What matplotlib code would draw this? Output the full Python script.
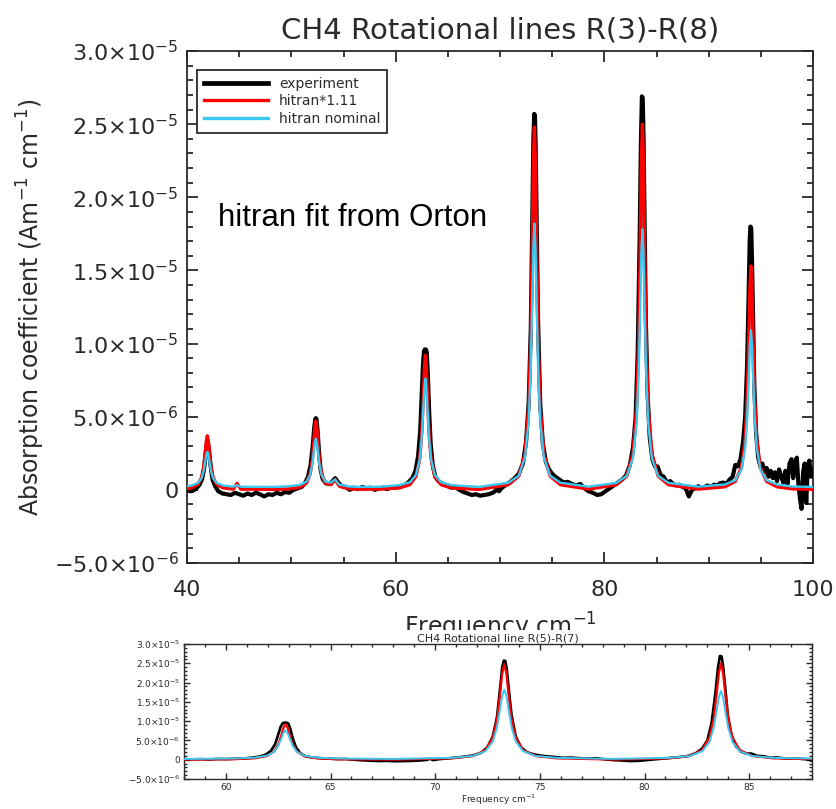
import matplotlib
matplotlib.use("Agg")
import matplotlib.pyplot as plt
from matplotlib.ticker import MultipleLocator, FuncFormatter
from matplotlib.patches import Rectangle
from matplotlib.transforms import Bbox, TransformedBbox
import numpy as np

# ---------------- data (absorption in units of 1e-6 Am^-1 cm^-1) ----------------
model_freq = [40.0, 40.45, 41.05, 41.4, 41.6, 41.75, 41.85, 41.95, 42.05, 42.15, 42.3, 42.5, 42.85, 43.45, 44.3,
              44.45, 44.8, 45.15,
              48.5, 49.85, 50.85, 51.45, 51.8, 52.0, 52.15, 52.25, 52.35, 52.45, 52.55, 52.7, 52.9, 53.25, 53.8, 54.2, 54.6, 55.5, 56.5,
              58.5, 60.35, 61.35, 61.95, 62.3, 62.5, 62.65, 62.75, 62.85, 62.95, 63.05, 63.2, 63.4, 63.75, 64.35, 65.35,
              68.0,
              70.8, 71.8, 72.4, 72.75, 72.95, 73.1, 73.2, 73.3, 73.4, 73.5, 73.65, 73.85, 74.2, 74.8, 75.8,
              78.5,
              81.15, 82.15, 82.75, 83.1, 83.3, 83.45, 83.55, 83.65, 83.75, 83.85, 84.0, 84.2, 84.55, 85.15, 86.15,
              89.0,
              91.55, 92.55, 93.15, 93.5, 93.7, 93.85, 93.95, 94.05, 94.15, 94.25, 94.4, 94.6, 94.95, 95.55, 96.55, 98.0, 100.0]

hitran_scaled = [0.06, 0.14, 0.37, 0.85, 1.55, 2.55, 3.33, 3.7, 3.33, 2.55, 1.55, 0.85, 0.37, 0.14, 0.06,
                 0.05, 0.45, 0.05,
                 0.03, 0.07, 0.18, 0.47, 1.08, 1.97, 3.24, 4.23, 4.7, 4.23, 3.24, 1.97, 1.08, 0.47, 0.35, 0.7, 0.25, 0.08, 0.04,
                 0.05, 0.13, 0.35, 0.92, 2.1, 3.86, 6.35, 8.28, 9.2, 8.28, 6.35, 3.86, 2.1, 0.92, 0.35, 0.13,
                 0.03,
                 0.35, 0.94, 2.48, 5.7, 10.4, 17.1, 22.3, 24.8, 22.3, 17.1, 10.4, 5.7, 2.48, 0.94, 0.35,
                 0.05,
                 0.35, 0.95, 2.5, 5.75, 10.5, 17.25, 22.5, 25.0, 22.5, 17.25, 10.5, 5.75, 2.5, 0.95, 0.35,
                 0.05,
                 0.21, 0.58, 1.53, 3.52, 6.43, 10.56, 13.77, 15.3, 13.77, 10.56, 6.43, 3.52, 1.53, 0.58, 0.21, 0.07, 0.03]

hitran_nominal = [0.25, 0.3, 0.47, 0.8, 1.29, 1.93, 2.38, 2.6, 2.38, 1.93, 1.29, 0.8, 0.47, 0.3, 0.23,
                  0.22, 0.32, 0.21,
                  0.2, 0.25, 0.34, 0.57, 1.03, 1.7, 2.58, 3.2, 3.5, 3.2, 2.58, 1.7, 1.03, 0.57, 0.5, 0.72, 0.35, 0.23, 0.2,
                  0.21, 0.32, 0.52, 1.03, 2.05, 3.57, 5.53, 6.93, 7.6, 6.93, 5.53, 3.57, 2.05, 1.03, 0.52, 0.32,
                  0.2,
                  0.49, 0.97, 2.22, 4.7, 8.39, 13.16, 16.58, 18.2, 16.58, 13.16, 8.39, 4.7, 2.22, 0.97, 0.49,
                  0.22,
                  0.48, 0.96, 2.17, 4.6, 8.21, 12.87, 16.22, 17.8, 16.22, 12.87, 8.21, 4.6, 2.17, 0.96, 0.48,
                  0.22,
                  0.37, 0.66, 1.4, 2.88, 5.07, 7.9, 9.94, 10.9, 9.94, 7.9, 5.07, 2.88, 1.4, 0.66, 0.37, 0.23, 0.2]

exp_freq = [40.0, 40.3, 40.6, 40.9, 41.2, 41.45, 41.65, 41.8, 41.9, 41.95, 42.0, 42.1, 42.25, 42.45, 42.7,
            43.0, 43.4, 43.8, 44.2, 44.6, 45.0, 45.4, 45.8, 46.2, 46.6, 47.0, 47.4, 47.8, 48.2, 48.6, 49.0,
            49.4, 49.8, 50.2, 50.6, 51.0, 51.3, 51.6, 51.85, 52.05, 52.2, 52.3, 52.35, 52.42, 52.52, 52.65,
            52.8, 53.0, 53.3, 53.6, 53.9, 54.2, 54.5, 54.8, 55.2, 55.6, 56.0, 56.4, 56.8, 57.2, 57.6, 58.0,
            58.4, 58.8, 59.2, 59.6, 60.0, 60.4, 60.8, 61.2, 61.6, 61.9, 62.15, 62.35, 62.5, 62.62, 62.72,
            62.8, 62.9, 62.98, 63.08, 63.2, 63.35, 63.55, 63.8, 64.1, 64.5, 64.9, 65.3, 65.7, 66.1, 66.5,
            66.9, 67.3, 67.7, 68.1, 68.5, 68.9, 69.3, 69.6, 69.75, 69.9, 70.2, 70.6, 71.0, 71.4, 71.8, 72.2,
            72.5, 72.75, 72.95, 73.1, 73.2, 73.28, 73.35, 73.42, 73.52, 73.65, 73.85, 74.1, 74.4, 74.7, 75.0,
            75.3, 75.7, 76.1, 76.5, 76.9, 77.3, 77.7, 78.1, 78.5, 78.9, 79.3, 79.7, 80.1, 80.5, 80.9, 81.3,
            81.7, 82.1, 82.45, 82.75, 83.0, 83.2, 83.38, 83.5, 83.6, 83.68, 83.76, 83.86, 83.98, 84.15, 84.35,
            84.6, 84.85, 85.1, 85.4, 85.7, 86.0, 86.3, 86.6, 86.9, 87.2, 87.5, 87.8, 88.1, 88.4, 88.7, 89.0,
            89.3, 89.6, 89.9, 90.2, 90.5, 90.8, 91.1, 91.4, 91.7, 92.0, 92.3, 92.55, 92.8, 93.05, 93.3, 93.5,
            93.68, 93.82, 93.93, 94.0, 94.08, 94.16, 94.26, 94.38, 94.55, 94.75, 94.95, 95.15, 95.35, 95.55,
            95.75, 95.95, 96.15, 96.35, 96.55, 96.75, 96.95, 97.15, 97.35, 97.55, 97.75, 97.95, 98.1, 98.3,
            98.45, 98.6, 98.75, 98.9, 99.05, 99.2, 99.35, 99.5, 99.65, 99.8, 99.9, 100.0]

experiment = [0.0, -0.1, -0.05, 0.1, 0.35, 0.75, 1.5, 2.6, 3.15, 3.3, 3.2, 2.8, 1.7, 0.7, 0.25,
              -0.1, -0.25, -0.3, -0.35, -0.2, -0.3, -0.4, -0.25, -0.35, -0.2, -0.3, -0.45, -0.3, -0.35, -0.2, -0.3,
              -0.15, -0.2, 0.0, 0.1, 0.2, 0.45, 0.9, 1.7, 3.0, 4.3, 4.85, 4.9, 4.8, 4.0, 2.6,
              1.4, 0.75, 0.45, 0.4, 0.55, 0.8, 0.5, 0.25, 0.2, 0.0, 0.15, 0.05, 0.2, 0.1, 0.15, 0.0,
              0.1, 0.15, 0.05, 0.2, 0.15, 0.25, 0.3, 0.5, 0.8, 1.3, 2.3, 4.0, 6.5, 8.6, 9.5,
              9.6, 9.6, 9.4, 8.0, 5.5, 3.2, 1.7, 0.9, 0.6, 0.4, 0.3, 0.15, 0.2, 0.0, -0.15,
              -0.25, -0.35, -0.3, -0.4, -0.35, -0.3, -0.2, -0.05, 0.25, -0.1, 0.15, 0.35, 0.55, 0.8, 1.1, 1.8,
              3.3, 6.0, 11.0, 18.5, 24.0, 25.7, 25.6, 23.5, 18.0, 11.5, 6.0, 3.2, 1.9, 1.4, 1.1,
              0.9, 0.7, 0.5, 0.55, 0.4, 0.3, 0.4, 0.1, -0.1, -0.2, -0.35, -0.3, -0.1, 0.1, 0.3, 0.5,
              0.7, 1.0, 1.7, 2.9, 5.0, 9.5, 17.0, 23.5, 26.9, 26.8, 24.0, 18.5, 11.5, 6.5, 3.6,
              2.1, 1.6, 1.6, 1.0, 0.9, 0.5, 0.6, 0.4, 0.3, 0.35, 0.2, 0.1, -0.45, 0.0, 0.1, 0.25,
              0.15, 0.2, 0.3, 0.2, 0.35, 0.3, 0.45, 0.5, 0.4, 0.7, 0.9, 1.7, 1.6, 2.1, 3.3, 5.0,
              8.5, 13.0, 17.0, 18.0, 17.9, 15.5, 11.5, 7.0, 3.8, 2.2, 1.6, 1.8, 1.2, 1.5,
              0.9, 1.3, 0.8, 1.2, 0.6, 1.4, 0.9, 0.5, 1.3, 0.4, 1.8, 2.1, 0.8, 1.9,
              2.2, 0.4, -0.6, -1.3, 1.2, 1.8, -0.9, 1.6, 2.0, 0.9, 1.4, 1.0]

series_labels = ["experiment", "hitran*1.11", "hitran nominal"]
main_title = "CH4 Rotational lines R(3)-R(8)"
inset_title = "CH4 Rotational line R(5)-R(7)"
y_label = "Absorption coefficient (Am$^{-1}$ cm$^{-1}$)"
x_label = "Frequency cm$^{-1}$"
annotation = "hitran fit from Orton"

# ---------------- styling ----------------
TXT = "#2a2a2a"
BLACK = "#000000"
RED = "#ff0000"
CYAN = "#38c8f0"

W, H = 837, 809
fig = plt.figure(figsize=(W / 100, H / 100), dpi=100)
fig.patch.set_facecolor("white")


def fmt_sci(v, pos):
    if abs(v) < 1e-9:
        return "0"
    val = v * 1e-6
    exp = int(np.floor(np.log10(abs(val))))
    mant = val / 10 ** exp
    sign = "-" if mant < 0 else ""
    return r"$%s%.1f{\times}10^{%d}$" % (sign, abs(mant), exp)


def style_axes(ax, xmaj, xmin, lbl_size, tick_major, tick_minor, lw):
    ax.set_ylim(-5, 30)
    ax.xaxis.set_major_locator(MultipleLocator(xmaj))
    ax.xaxis.set_minor_locator(MultipleLocator(xmin))
    ax.yaxis.set_major_locator(MultipleLocator(5))
    ax.yaxis.set_minor_locator(MultipleLocator(1))
    ax.yaxis.set_major_formatter(FuncFormatter(fmt_sci))
    ax.tick_params(which="both", direction="in", top=True, right=True,
                   colors=TXT, labelcolor=TXT, labelsize=lbl_size, width=lw)
    ax.tick_params(which="major", length=tick_major)
    ax.tick_params(which="minor", length=tick_minor)
    for s in ax.spines.values():
        s.set_linewidth(lw)
        s.set_color(TXT)


# ---------------- main axes ----------------
ax = fig.add_axes([187 / W, 1 - 563 / H, 626 / W, 512 / H])
ax.plot(exp_freq, experiment, color=BLACK, lw=3.0, label=series_labels[0], zorder=3)
ax.plot(model_freq, hitran_scaled, color=RED, lw=2.4, label=series_labels[1], zorder=4)
ax.plot(model_freq, hitran_nominal, color=CYAN, lw=1.7, label=series_labels[2], zorder=5)
ax.set_xlim(40, 100)
style_axes(ax, 20, 5, 16, 8, 4.5, 1.3)
ax.xaxis.set_tick_params(pad=12)
ax.yaxis.set_tick_params(pad=6)
ax.set_title(main_title, fontsize=21, color=TXT, pad=9)
ax.set_ylabel(y_label, fontsize=17, color=TXT, labelpad=5)
ax.set_xlabel(x_label, fontsize=17, color=TXT, labelpad=8)
clip = TransformedBbox(Bbox([[0, (H - 630) / H], [1, 1]]), fig.transFigure)
ax.xaxis.label.set_clip_box(clip)
ax.xaxis.label.set_clip_on(True)

leg = ax.legend(loc="upper left", bbox_to_anchor=(0.016, 0.963), borderaxespad=0,
                fontsize=10, handlelength=4.6, handletextpad=0.8, labelspacing=0.25,
                borderpad=0.5, fancybox=False, framealpha=1, edgecolor=TXT)
leg.get_frame().set_linewidth(1.3)
for line, w in zip(leg.get_lines(), [3.4, 2.4, 2.4]):
    line.set_linewidth(w)
for t in leg.get_texts():
    t.set_color(TXT)

ax.text(43.0, 18.6, annotation, fontsize=22.5, family="Liberation Sans", color="black",
        va="center", ha="left", zorder=6)

# white panel hiding lower part of main x label
fig.add_artist(Rectangle((0, 0), 1, (H - 630) / H, transform=fig.transFigure,
                         facecolor="white", edgecolor="none", zorder=1))

# ---------------- inset ----------------
ins = fig.add_axes([184 / W, 1 - 779 / H, 628 / W, 135 / H], zorder=2)
ins.plot(exp_freq, experiment, color=BLACK, lw=1.9, zorder=3)
ins.plot(model_freq, hitran_scaled, color=RED, lw=1.6, zorder=4)
ins.plot(model_freq, hitran_nominal, color=CYAN, lw=1.4, zorder=5)
ins.set_xlim(58, 88)
style_axes(ins, 5, 1, 6.5, 4, 2.2, 1.0)
ins.xaxis.set_tick_params(pad=3)
ins.yaxis.set_tick_params(pad=3)
ins.set_title(inset_title, fontsize=8, color=TXT, pad=2)
ins.set_xlabel(x_label, fontsize=6.5, color=TXT, labelpad=0)

fig.savefig("out.png", dpi=100, facecolor="white")
